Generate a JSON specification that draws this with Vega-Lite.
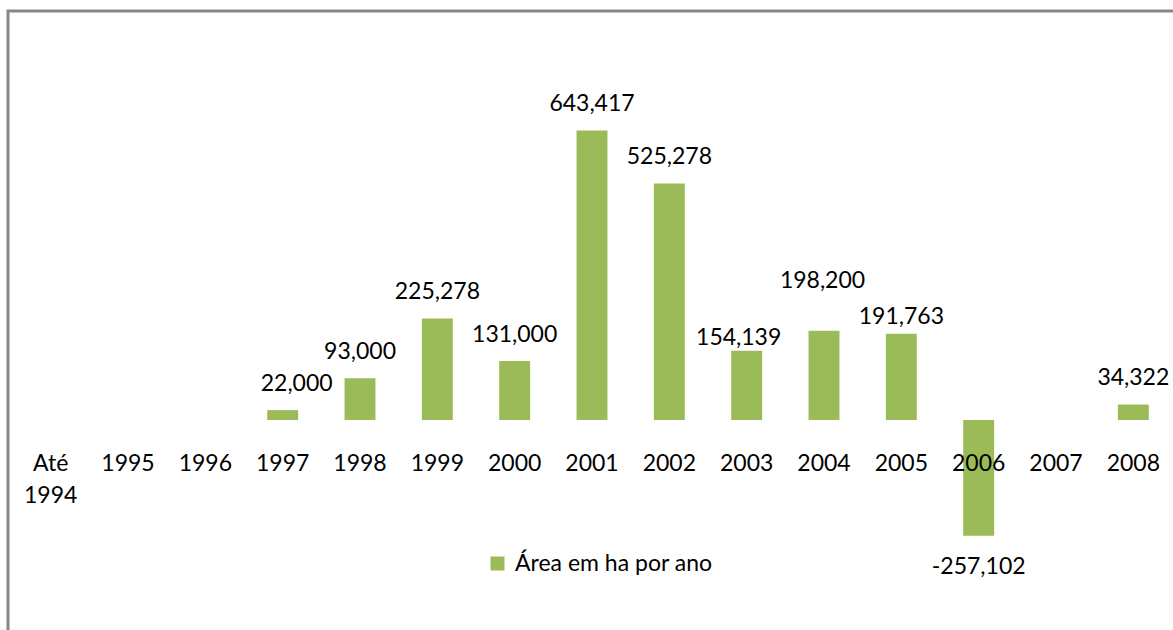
{
  "$schema": "https://vega.github.io/schema/vega-lite/v6.json",
  "width": 1165,
  "height": 619,
  "autosize": {"type": "none"},
  "padding": {"left": 8, "top": 11, "right": 0, "bottom": 0},
  "background": "white",
  "config": {
    "font": "Lato",
    "view": {"stroke": "#878787", "strokeWidth": 3, "strokeDash": [1165, 1784, 619]},
    "text": {"font": "Lato", "fontSize": 23, "color": "#000000"}
  },
  "data": {
    "values": [
      {"Year": "Até 1994", "value": null},
      {"Year": "1995", "value": null},
      {"Year": "1996", "value": null},
      {"Year": "1997", "value": 22000},
      {"Year": "1998", "value": 93000},
      {"Year": "1999", "value": 225278},
      {"Year": "2000", "value": 131000},
      {"Year": "2001", "value": 643417},
      {"Year": "2002", "value": 525278},
      {"Year": "2003", "value": 154139},
      {"Year": "2004", "value": 198200},
      {"Year": "2005", "value": 191763},
      {"Year": "2006", "value": -257102},
      {"Year": "2007", "value": null},
      {"Year": "2008", "value": 34322}
    ]
  },
  "encoding": {
    "x": {
      "field": "Year",
      "type": "nominal",
      "sort": null,
      "axis": null,
      "scale": {
        "domain": ["Até 1994", "1995", "1996", "1997", "1998", "1999", "2000", "2001", "2002", "2003", "2004", "2005", "2006", "2007", "2008"],
        "range": [4, 1164],
        "paddingInner": 0.6,
        "paddingOuter": 0.3
      }
    }
  },
  "layer": [
    {
      "mark": {"type": "bar"},
      "encoding": {
        "y": {"field": "value", "type": "quantitative", "axis": null,
              "scale": {"domain": [-400000, 800000], "range": [589, 49], "nice": false, "zero": false}},
        "color": {"datum": "Área em ha por ano", "type": "nominal",
                  "scale": {"range": ["#9BBB59"]},
                  "legend": {"title": null, "orient": "none", "legendX": 478, "legendY": 541,
                             "symbolType": "square", "symbolSize": 196, "symbolStrokeWidth": 0,
                             "labelFont": "Lato", "labelFontSize": 23, "labelColor": "#000000",
                             "labelLimit": 0, "labelOffset": 6, "padding": 0}}
      }
    },
    {
      "mark": {"type": "rule", "color": "#878787", "strokeWidth": 1},
      "encoding": {"y": {"datum": 0, "type": "quantitative"}}
    },
    {
      "mark": {"type": "text", "baseline": "alphabetic", "align": "center", "dy": 51, "lineBreak": " ", "lineHeight": 32},
      "encoding": {
        "y": {"datum": 0, "type": "quantitative"},
        "text": {"field": "Year"}
      }
    },
    {
      "transform": [{"filter": "datum.value > 0 && indexof(['1997','2003','2004','2005'], datum.Year) < 0"}],
      "mark": {"type": "text", "baseline": "alphabetic", "align": "center", "dy": -19.5},
      "encoding": {
        "y": {"field": "value", "type": "quantitative"},
        "text": {"field": "value", "type": "quantitative", "format": ","}
      }
    },
    {
      "transform": [{"filter": "datum.Year == '1997'"}],
      "mark": {"type": "text", "baseline": "alphabetic", "align": "center", "dy": -19.5, "dx": 14},
      "encoding": {
        "y": {"field": "value", "type": "quantitative"},
        "text": {"field": "value", "type": "quantitative", "format": ","}
      }
    },
    {
      "transform": [{"filter": "datum.Year == '2003'"}],
      "mark": {"type": "text", "baseline": "alphabetic", "align": "center", "dy": -5.6, "dx": -8},
      "encoding": {
        "y": {"field": "value", "type": "quantitative"},
        "text": {"field": "value", "type": "quantitative", "format": ","}
      }
    },
    {
      "transform": [{"filter": "datum.Year == '2004'"}],
      "mark": {"type": "text", "baseline": "alphabetic", "align": "center", "dy": -42.7, "dx": -1.5},
      "encoding": {
        "y": {"field": "value", "type": "quantitative"},
        "text": {"field": "value", "type": "quantitative", "format": ","}
      }
    },
    {
      "transform": [{"filter": "datum.Year == '2005'"}],
      "mark": {"type": "text", "baseline": "alphabetic", "align": "center", "dy": -10},
      "encoding": {
        "y": {"field": "value", "type": "quantitative"},
        "text": {"field": "value", "type": "quantitative", "format": ","}
      }
    },
    {
      "transform": [
        {"filter": "datum.value < 0"},
        {"calculate": "'-' + format(-datum.value, ',')", "as": "label"}
      ],
      "mark": {"type": "text", "baseline": "alphabetic", "align": "center", "dy": 38.6},
      "encoding": {
        "y": {"field": "value", "type": "quantitative"},
        "text": {"field": "label"}
      }
    }
  ]
}
